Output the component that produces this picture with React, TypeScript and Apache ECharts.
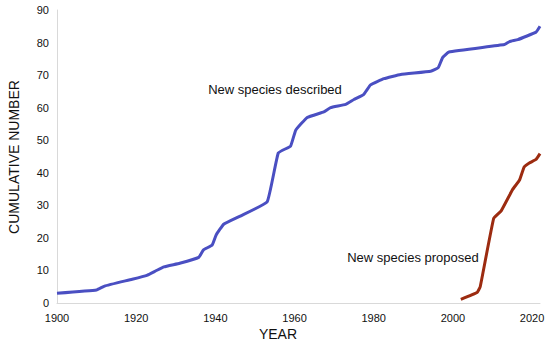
import React, { useEffect, useRef } from "react";
import * as echarts from "echarts";

const describedYears = [1900, 1910, 1912, 1919, 1922.7, 1925, 1927, 1931, 1935.8, 1937, 1939.2, 1940.2, 1942.1, 1946.3, 1953.1, 1955.9, 1959, 1960.3, 1963.2, 1967.4, 1969.1, 1972.9, 1975, 1977.5, 1979.2, 1982.6, 1986.8, 1994.4, 1996.3, 1997.4, 1999, 2013, 2014.3, 2016.4, 2021, 2022];
const describedValues = [3.0, 4.0, 5.2, 7.3, 8.5, 9.9, 11.1, 12.2, 14.0, 16.3, 17.8, 20.9, 24.2, 26.7, 31.1, 46.1, 48.2, 53.1, 57.0, 58.7, 60.0, 61.0, 62.5, 64.1, 67.0, 68.9, 70.2, 71.2, 72.3, 75.4, 77.1, 79.4, 80.3, 80.9, 83.2, 85.0];

const proposedYears = [2002, 2006.1, 2006.9, 2010.3, 2012.2, 2015.1, 2016.8, 2018, 2019.3, 2021, 2022];
const proposedValues = [1.1, 3.2, 5.0, 26.0, 28.3, 34.9, 37.7, 41.8, 43.0, 44.1, 45.9];

const xMin = 1900;
const xMax = 2022;
const yMin = 0;
const yMax = 90;

const describedLabel = "New species described";
const proposedLabel = "New species proposed";
const xTitle = "YEAR";
const yTitle = "CUMULATIVE NUMBER";

export default function App() {
  const ref = useRef<HTMLDivElement>(null);
  useEffect(() => {
    if (!ref.current) return;
    const chart = echarts.init(ref.current, undefined, { renderer: "svg" });
    const font = "Liberation Sans, Arial, sans-serif";
    chart.setOption({
      animation: false,
      backgroundColor: "#ffffff",
      grid: { left: 57, right: 10, top: 10, bottom: 42 },
      xAxis: {
        type: "value",
        min: xMin,
        max: xMax,
        interval: 20,
        axisLine: { show: true, lineStyle: { color: "#d9d9d9", width: 1 } },
        axisTick: { show: false },
        splitLine: { show: false },
        axisLabel: {
          color: "#111",
          fontSize: 11,
          fontFamily: font,
          margin: 9,
          formatter: (v: number) => (v % 20 === 0 ? String(v) : ""),
        },
      },
      yAxis: {
        type: "value",
        min: yMin,
        max: yMax,
        interval: 10,
        axisLine: { show: true, lineStyle: { color: "#d9d9d9", width: 1 } },
        axisTick: { show: false },
        splitLine: { show: false },
        axisLabel: { color: "#111", fontSize: 11, fontFamily: font, margin: 8 },
      },
      graphic: [
        {
          type: "text",
          x: 14,
          y: 157,
          rotation: Math.PI / 2,
          style: { text: yTitle, fontSize: 14, fontFamily: font, fill: "#111", align: "center", verticalAlign: "middle" },
        },
        {
          type: "text",
          x: 278,
          y: 334,
          style: { text: xTitle, fontSize: 14, fontFamily: font, fill: "#111", align: "center", verticalAlign: "middle" },
        },
        {
          type: "text",
          x: 275,
          y: 89,
          style: { text: describedLabel, fontSize: 13, fontFamily: font, fill: "#111", align: "center", verticalAlign: "middle" },
        },
        {
          type: "text",
          x: 413,
          y: 257,
          style: { text: proposedLabel, fontSize: 13, fontFamily: font, fill: "#111", align: "center", verticalAlign: "middle" },
        },
      ],
      series: [
        {
          type: "line",
          data: describedYears.map((x, i) => [x, describedValues[i]]),
          showSymbol: false,
          smooth: 0.1,
          lineStyle: { color: "#4a4fc2", width: 3 },
          itemStyle: { color: "#4a4fc2" },
        },
        {
          type: "line",
          data: proposedYears.map((x, i) => [x, proposedValues[i]]),
          showSymbol: false,
          smooth: 0.1,
          lineStyle: { color: "#9c2b10", width: 3 },
          itemStyle: { color: "#9c2b10" },
        },
      ],
    });
    return () => chart.dispose();
  }, []);
  return <div ref={ref} style={{ width: 550, height: 345, position: "absolute", left: 0, top: 0 }} />;
}
